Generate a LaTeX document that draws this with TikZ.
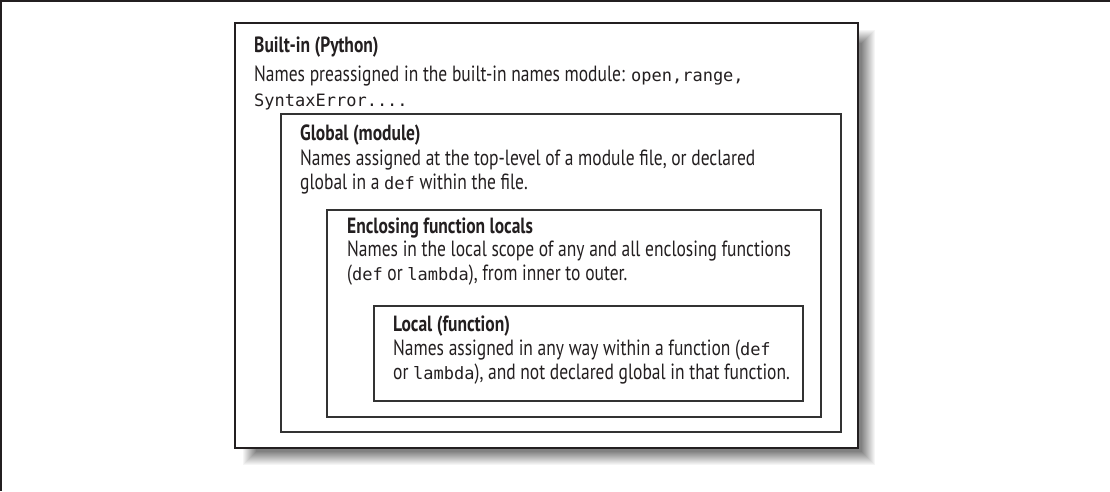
\documentclass[tikz,border=0pt]{standalone}
\usepackage{fontspec}
\setmainfont{PT Sans}[FakeStretch=0.795]
\newfontfamily\codefont{DejaVu Sans Mono}
\definecolor{ink}{HTML}{231F20}
\definecolor{edge}{HTML}{333333}
\tikzset{
  txt/.style={anchor=base west, inner sep=0pt, text=ink, font=\fontsize{22}{26}\selectfont},
  ttl/.style={txt, font=\fontsize{22}{26}\selectfont\bfseries},
  box/.style={draw=edge, line width=1.3pt, fill=white},
  outerbox/.style={draw=ink, line width=2pt, fill=white},
}
\newcommand{\cd}[1]{{\codefont\fontsize{17}{20}\selectfont #1}}
\begin{document}
\begin{tikzpicture}[x=1pt,y=-1pt]
\useasboundingbox (0,0) rectangle (1110,491);
% page frame (top and left only)
\draw[line width=4pt, ink] (0,491) -- (0,0) -- (1110,0);
% shadow
\foreach \k in {0,...,13}{
  \pgfmathsetmacro\g{4+3.5*\k}
  \fill[black!\g] (243+\k,30+\k) rectangle (875-\k,465-\k);
}
% boxes
\draw[outerbox] (235,23) rectangle (858,448);
\draw[box] (281,114) rectangle (841,432);
\draw[box] (327,210) rectangle (821,417);
\draw[box] (374,306) rectangle (803,401);
% Built-in
\node[ttl] (b1) at (254,52) {Built-in (Python)};
\node[txt] (b2) at (254,81) {Names preassigned in the built-in names module: \cd{open,range,}};
\node[txt] (b3) at (254,106) {\cd{SyntaxError....}};
% Global
\node[ttl] (g1) at (300,140) {Global (module)};
\node[txt] (g2) at (300,165) {Names assigned at the top-level of a module file, or declared};
\node[txt] (g3) at (300,189) {global in a \cd{def} within the file.};
% Enclosing
\node[ttl] (e1) at (347,233) {Enclosing function locals};
\node[txt] (e2) at (347,256) {Names in the local scope of any and all enclosing functions};
\node[txt] (e3) at (347,280) {(\cd{def} or \cd{lambda}), from inner to outer.};
% Local
\node[ttl] (l1) at (393,331) {Local (function)};
\node[txt] (l2) at (393,355) {Names assigned in any way within a function (\cd{def}};
\node[txt] (l3) at (393,379) {or \cd{lambda}), and not declared global in that function.};
\end{tikzpicture}
\end{document}
